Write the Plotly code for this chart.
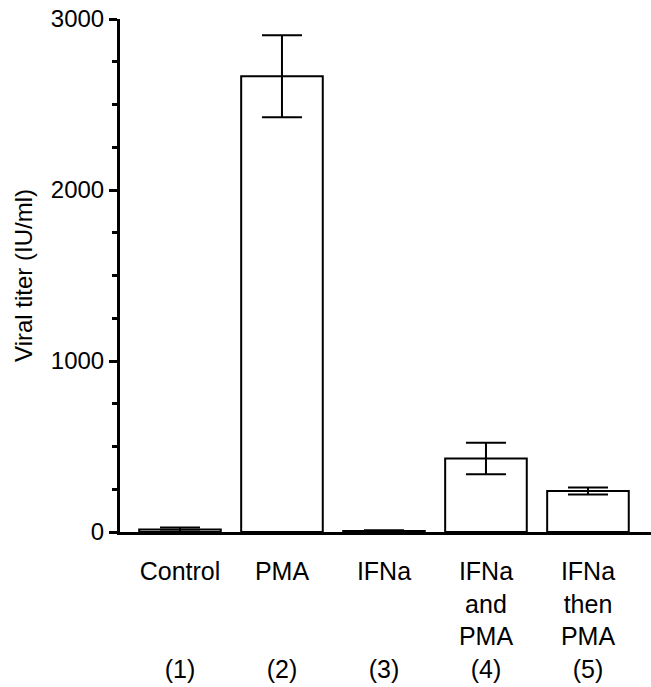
import plotly.graph_objects as go

categories = ["Control", "PMA", "IFNa", "IFNa<br>and<br>PMA", "IFNa<br>then<br>PMA"]
group_numbers = ["(1)", "(2)", "(3)", "(4)", "(5)"]
titer_values = [15, 2665, 6, 430, 240]
titer_errors = [12, 240, 4, 92, 20]
y_tick_values = [0, 1000, 2000, 3000]
y_tick_labels = ["0", "1000", "2000", "3000"]

tick_text = []
for cat, num in zip(categories, group_numbers):
    n_lines = cat.count("<br>") + 1
    tick_text.append(cat + "<br>" * (4 - n_lines) + num)

x_pos = list(range(len(categories)))

fig = go.Figure()
fig.add_trace(go.Bar(
    x=x_pos, y=titer_values, width=0.8,
    marker=dict(color="white", line=dict(color="black", width=2)),
    error_y=dict(type="data", array=titer_errors, visible=True,
                 color="black", thickness=2, width=20),
    showlegend=False,
))

FONT = "Liberation Sans, Arial, sans-serif"
fig.update_layout(
    width=651, height=687,
    margin=dict(l=120, r=0, t=19, b=155),
    paper_bgcolor="white", plot_bgcolor="white",
    font=dict(family=FONT, color="black"),
    xaxis=dict(
        range=[-0.588, 4.618], tickmode="array", tickvals=x_pos, ticktext=tick_text,
        showline=True, linecolor="black", linewidth=3, ticks="",
        tickfont=dict(size=25, family=FONT, color="black"),
        ticklabelstandoff=15,
        showgrid=False, zeroline=False, automargin=False,
    ),
    yaxis=dict(
        range=[0, 3000], tickmode="array", tickvals=y_tick_values, ticktext=y_tick_labels,
        showline=True, linecolor="black", linewidth=3,
        ticks="outside", ticklen=8, tickwidth=3, tickcolor="black",
        minor=dict(dtick=250, ticks="outside", ticklen=5, tickwidth=3, tickcolor="black"),
        tickfont=dict(size=24, family=FONT, color="black"),
        showgrid=False, zeroline=False, automargin=False,
        title=dict(text="Viral titer (IU/ml)", font=dict(size=24, family=FONT, color="black"), standoff=12),
    ),
    bargap=0.2,
)

fig.write_html(
    "out.html",
    config={"displayModeBar": False},
    post_script="document.body.style.margin='0px';document.body.style.overflow='hidden';",
)
